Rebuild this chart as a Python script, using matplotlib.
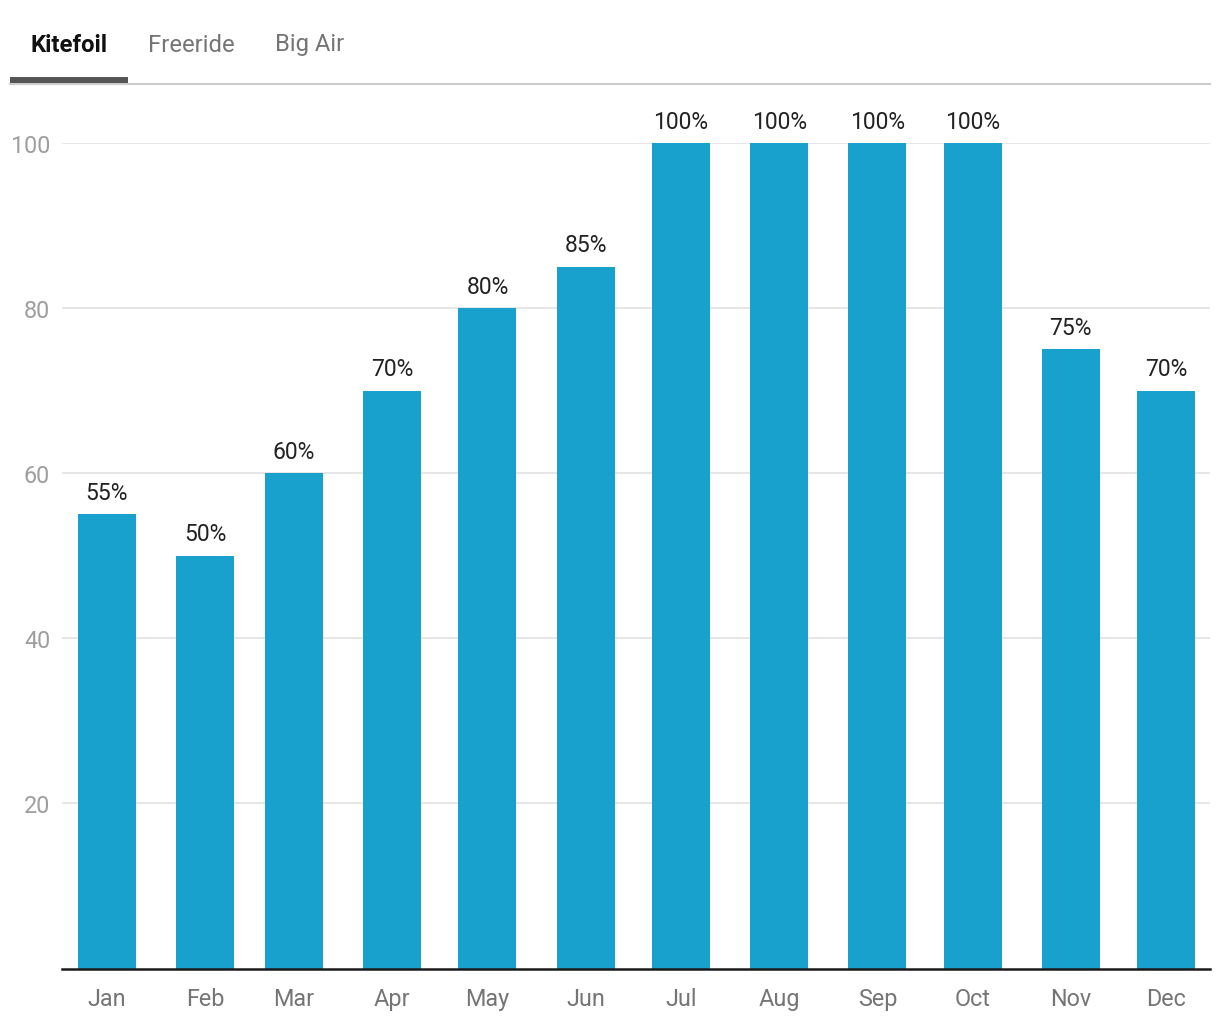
import matplotlib
matplotlib.use("Agg")
import matplotlib.pyplot as plt
from matplotlib.lines import Line2D
import pandas as pd

plt.rcParams['font.family'] = ['Roboto', 'DejaVu Sans']

months = ["Jan", "Feb", "Mar", "Apr", "May", "Jun",
          "Jul", "Aug", "Sep", "Oct", "Nov", "Dec"]
kitefoil = [55, 50, 60, 70, 80, 85, 100, 100, 100, 100, 75, 70]
tabs = ["Kitefoil", "Freeride", "Big Air"]
yticks = [20, 40, 60, 80, 100]

# time axis: bars sit on the first day of each month
month_starts = pd.date_range("2023-01-01", periods=12, freq="MS")
x = list(month_starts.dayofyear - 1)

W, H = 1220, 1020
fig = plt.figure(figsize=(W / 100, H / 100), dpi=100)

def fx(px):
    return px / W

def fy(py):
    return 1 - py / H

ax = fig.add_axes([fx(62), fy(969.5), fx(1210) - fx(62), fy(144) - fy(969.5)])

bars = ax.bar(x, kitefoil, width=18.3, color="#19a1ce", zorder=2)
for b, v in zip(bars, kitefoil):
    ax.annotate(f"{v}%", (b.get_x() + b.get_width() / 2, v),
                xytext=(0, 7.5), textcoords="offset points",
                ha="center", va="bottom", fontsize=16.5, color="#222222",
                annotation_clip=False)

ax.set_xlim(-14.2, 334 + 13.9)
ax.set_ylim(0, 100)
ax.set_xticks(x)
ax.set_xticklabels(months, fontsize=16.8, color="#757575")
ax.set_yticks(yticks)
ax.set_yticklabels([str(t) for t in yticks], fontsize=16.8, color="#9e9e9e")
ax.tick_params(axis="both", length=0)
ax.tick_params(axis="x", pad=13)
ax.tick_params(axis="y", pad=8.5)
ax.grid(axis="y", color="#e2e2e2", linewidth=1.2, zorder=0)
for s in ["top", "right", "left"]:
    ax.spines[s].set_visible(False)
ax.spines["bottom"].set_color("#1a1a1a")
ax.spines["bottom"].set_linewidth(1.8)
ax.spines["bottom"].set_zorder(3)

# tab bar
tab_x = [31, 148, 275]
for i, (t, px) in enumerate(zip(tabs, tab_x)):
    fig.text(fx(px), fy(45), t, fontsize=17.2, ha="left", va="center",
             color="#111111" if i == 0 else "#757575",
             fontweight="bold" if i == 0 else "normal")
fig.add_artist(Line2D([fx(10), fx(1210)], [fy(85), fy(85)],
                      color="#cccccc", linewidth=1.5))
fig.add_artist(Line2D([fx(10), fx(128)], [fy(80.5), fy(80.5)],
                      color="#555555", linewidth=4.3, solid_capstyle="butt"))

fig.savefig("out.png", dpi=100, facecolor="white")
